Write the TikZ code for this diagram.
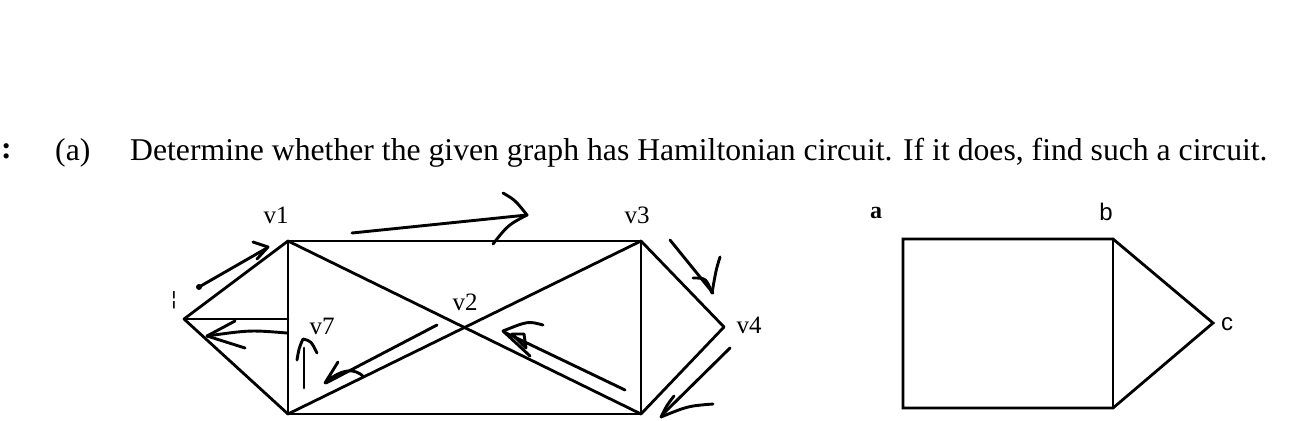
\documentclass[tikz,border=0pt]{standalone}
\usepackage{fontspec}
\setmainfont{Liberation Serif}
\newfontfamily\dejavu{DejaVu Sans}
\newfontfamily\arialish{Liberation Sans}
\begin{document}
\begin{tikzpicture}[x=1pt,y=-1pt,
  edge/.style={line width=2.8pt, line join=miter, line cap=round},
  hand/.style={line width=2.9pt, line cap=round, line join=round},
  lbl/.style={font=\fontsize{25}{25}\selectfont, inner sep=0pt},
  slbl/.style={font=\arialish\fontsize{24}{24}\selectfont, inner sep=0pt},
  ttl/.style={font=\fontsize{31.7}{31.7}\selectfont, inner sep=0pt, anchor=base west}]
\useasboundingbox (0,0) rectangle (1300,420);
\fill[white] (0,0) rectangle (1300,420);

% title
\node[ttl, font=\bfseries\fontsize{31.7}{31.7}\selectfont] (mark) at (1,158) {:};
\node[ttl] (qa) at (55,160) {(a)};
\node[ttl] (qtext) at (130,160) {Determine whether the given graph has Hamiltonian circuit. If it does, find such a circuit.};

% left graph vertices
\coordinate (L) at (184,319);
\coordinate (v1) at (288,241);
\coordinate (v7) at (288,319);
\coordinate (BL) at (288,414);
\coordinate (v3) at (641,241);
\coordinate (BR) at (641,414);
\coordinate (v4) at (724,327);

\draw[edge] (L) -- (v1);
\draw[edge] (L) -- (v7);
\draw[edge] (L) -- (BL);
\draw[edge] (v1) -- (BL);
\draw[edge] (v1) -- (v3);
\draw[edge] (BL) -- (BR);
\draw[edge] (v1) -- (BR);
\draw[edge] (BL) -- (v3);
\draw[edge] (v3) -- (BR);
\draw[edge] (v3) -- (v4);
\draw[edge] (v4) -- (BR);

% labels
\node[lbl] (lv1) at (276,215) {v1};
\node[lbl] (lv3) at (637,215) {v3};
\node[lbl] (lv2) at (465,302) {v2};
\node[lbl] (lv4) at (749,325) {v4};
\node[lbl] (lv7) at (322,326) {v7};
\node[lbl, font=\dejavu\fontsize{20}{20}\selectfont] (lv6) at (174,300) {¦};

% hand-drawn arrows
% L -> v1
\fill (199,287) circle (3pt);
\draw[hand] (199,287) -- (267,248);
\draw[hand] (253,242) -- (268,247) -- (257,259);
% v1 -> v3
\draw[hand] (352,233) -- (527,215);
\draw[hand] (503,193) .. controls (515,200) .. (527,215) .. controls (508,225) .. (493,244);
% v3 -> v4
\draw[hand] (670,240) -- (713,293);
\draw[hand] (720,257) .. controls (716,270) .. (712,293);
\draw[hand] (693,278) .. controls (706,278) .. (712,293);
% v4 -> BR
\draw[hand] (730,348) -- (662,415);
\draw[hand] (674,396) .. controls (667,405) .. (661,417) .. controls (688,406) .. (713,404);
% BR -> v2
\draw[hand] (625,390) -- (504,332);
\draw[hand] (543,325) .. controls (528,321) .. (503,331) -- (530,356);
\draw[hand] (512,334) -- (524,334) -- (526,348) -- cycle;
% v2 -> BL
\draw[hand] (437,325) -- (326,383);
\draw[hand] (338,362) -- (325,383) .. controls (342,368) and (355,368) .. (364,377);
% up arrow near v7
\draw[hand] (304,388) -- (304,348);
\draw[hand] (297,360) .. controls (299,348) .. (303,339) .. controls (311,341) .. (317,353);
% v7 -> L
\draw[hand] (287,333) .. controls (250,330) .. (207,336);
\draw[hand] (235,321) -- (207,336) -- (245,348);

% right graph
\coordinate (a) at (903,239);
\coordinate (b) at (1113,239);
\coordinate (c) at (1213,323);
\coordinate (d) at (1113,408);
\coordinate (e) at (903,408);
\draw[edge] (a) -- (b) -- (c) -- (d) -- (e) -- cycle;
\draw[edge] (b) -- (d);
\node[lbl, font=\bfseries\fontsize{24}{24}\selectfont] (la) at (876,213) {a};
\node[slbl] (lb) at (1106,212) {b};
\node[slbl] (lc) at (1227,324) {c};
\end{tikzpicture}
\end{document}
